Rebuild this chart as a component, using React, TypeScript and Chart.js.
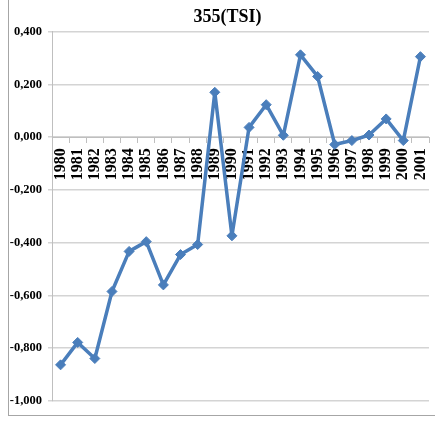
import React, { useEffect, useRef } from "react";
import { Chart, registerables } from "chart.js";

Chart.register(...registerables);

const years = ["1980","1981","1982","1983","1984","1985","1986","1987","1988","1989","1990","1991","1992","1993","1994","1995","1996","1997","1998","1999","2000","2001"];
const tsi = [-0.863,-0.778,-0.839,-0.585,-0.433,-0.396,-0.56,-0.445,-0.407,0.17,-0.374,0.037,0.123,0.007,0.312,0.23,-0.028,-0.013,0.008,0.069,-0.013,0.305];
const titleText = "355(TSI)";
const yMin = -1.0;
const yMax = 0.4;
const yStep = 0.2;

const SERIF = "'Liberation Serif', 'Times New Roman', serif";

export default function App() {
  const ref = useRef<HTMLCanvasElement>(null);
  useEffect(() => {
    document.body.style.margin = "0";
    const chart = new Chart(ref.current!, {
      type: "line",
      data: {
        labels: years,
        datasets: [
          {
            data: tsi,
            borderColor: "#4A7EBB",
            backgroundColor: "#4A7EBB",
            borderWidth: 3.5,
            borderJoinStyle: "round",
            pointStyle: "rectRot",
            pointRadius: 5,
            pointBorderWidth: 1,
            tension: 0,
          },
        ],
      },
      options: {
        animation: false,
        responsive: false,
        maintainAspectRatio: false,
        layout: { padding: { left: 0, right: -20, top: 0, bottom: 27 } },
        plugins: {
          legend: { display: false },
          tooltip: { enabled: false },
          title: {
            display: true,
            text: titleText,
            color: "#000",
            font: { family: SERIF, size: 18, weight: "bold", lineHeight: 1.2 },
            padding: { top: 7, bottom: 3 },
          },
        },
        scales: {
          x: {
            type: "category",
            position: { y: 0 } as any,
            offset: true,
            afterFit(scale: any) {
              scale.paddingLeft = 0;
              scale.paddingRight = 0;
            },
            grid: {
              offset: true,
              drawOnChartArea: false,
              drawTicks: true,
              tickLength: 5,
              color: "#bfbfbf",
            },
            border: { display: true, color: "#bfbfbf", width: 1 },
            ticks: {
              minRotation: 90,
              maxRotation: 90,
              autoSkip: false,
              padding: 6,
              color: "#000",
              font: { family: SERIF, size: 16, weight: "bold" },
            },
          },
          y: {
            min: yMin,
            max: yMax,
            afterFit(scale: any) {
              scale.width = 52;
            },
            grid: {
              color: "#d4d4d4",
              tickLength: 4,
              lineWidth: 1.5,
            },
            border: { display: true, color: "#bfbfbf", width: 1 },
            ticks: {
              stepSize: yStep,
              padding: 6,
              color: "#000",
              font: { family: SERIF, size: 12.5, weight: "bold" },
              callback: (v: any) => {
                const n = Math.abs(Number(v)) < 1e-9 ? 0 : Number(v);
                return n.toFixed(3).replace(".", ",");
              },
            },
          },
          spacer: {
            type: "linear",
            position: "right",
            afterFit(scale: any) {
              scale.width = 21;
            },
            grid: { display: false, drawTicks: false },
            border: { display: false },
            ticks: { display: false },
          },
        },
      },
    });
    return () => chart.destroy();
  }, []);
  return (
    <div style={{ position: "relative", width: 435, height: 428 }}>
      <div
        style={{
          position: "absolute",
          left: 8,
          top: 0,
          width: 427,
          height: 416,
          borderLeft: "1px solid #a6a6a6",
          borderBottom: "1px solid #a6a6a6",
          boxSizing: "border-box",
        }}
      />
      <canvas
        ref={ref}
        width={435}
        height={428}
        style={{ display: "block", position: "absolute", left: 0, top: 0 }}
      />
    </div>
  );
}
